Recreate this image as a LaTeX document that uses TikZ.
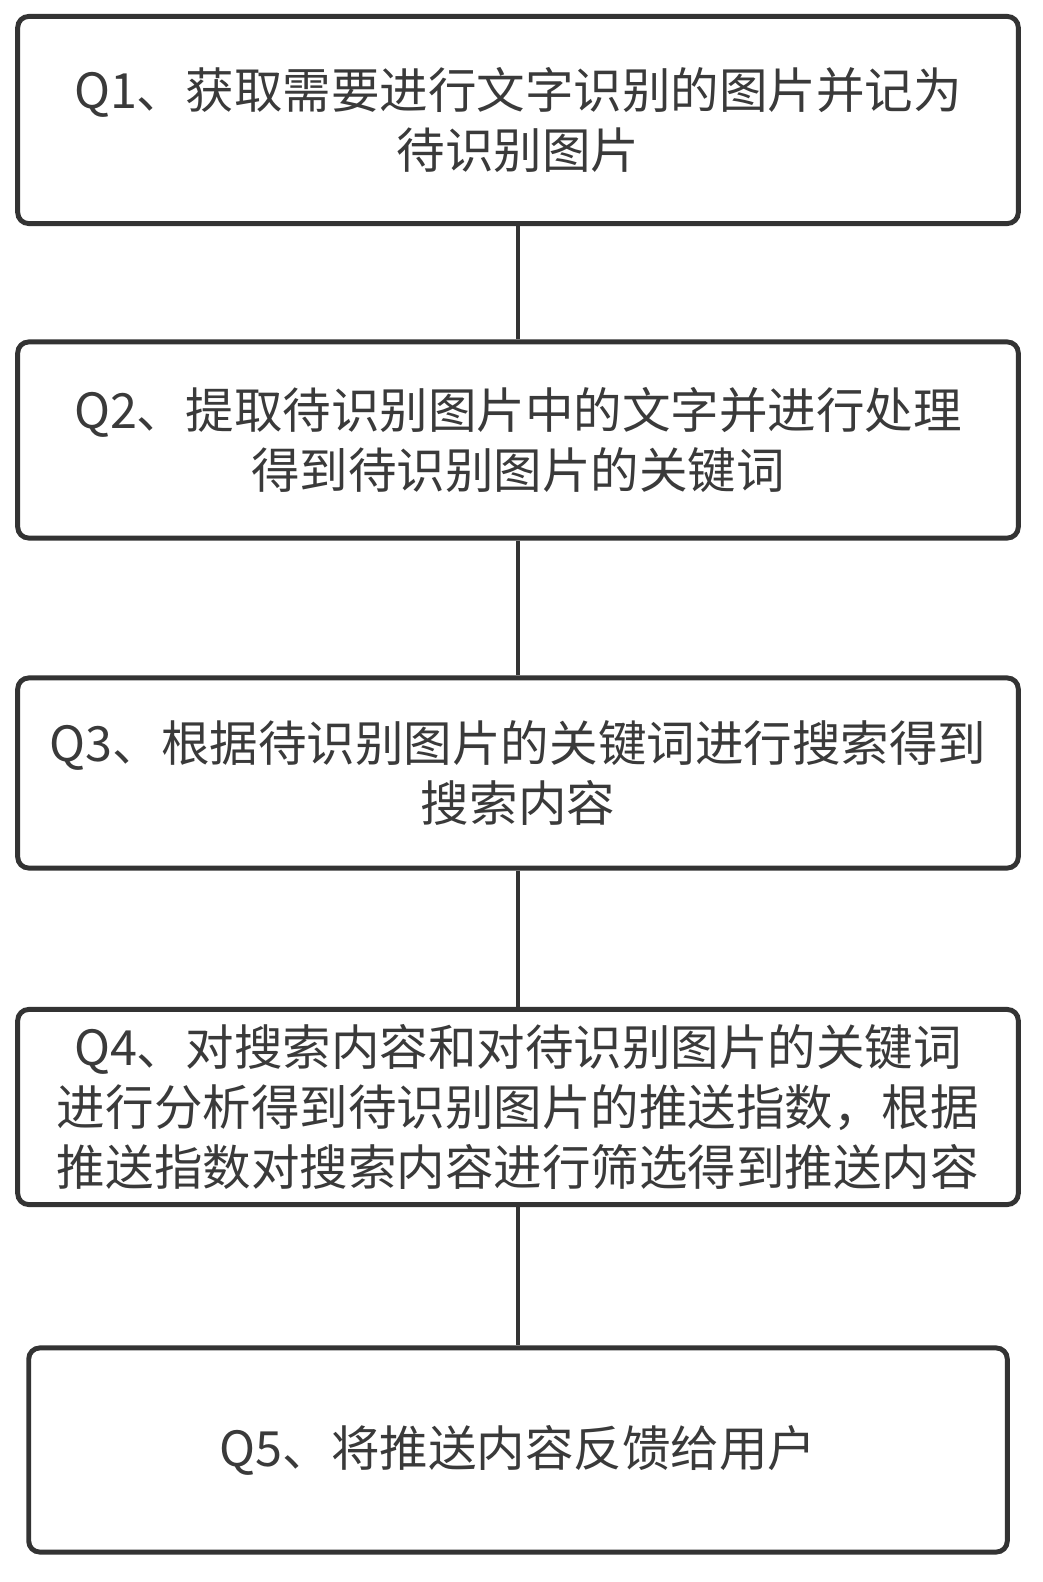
\documentclass[tikz,border=0pt]{standalone}
\usepackage{fontspec}
\setmainfont{Noto Sans CJK SC}
\usepackage{tikz}

\definecolor{boxline}{HTML}{333333}
\definecolor{boxtext}{HTML}{3A3A3A}
\tikzset{
  stepbox/.style={draw=boxline, line width=1.4pt, rounded corners=0.11cm,
    minimum width=10.0cm, text width=9.5cm, align=center, text=boxtext,
    font=\fontsize{13.8pt}{17.1pt}\selectfont, inner sep=0pt},
  link/.style={draw=boxline, line width=1.4pt}
}

\begin{document}
\begin{tikzpicture}[x=0.01cm, y=-0.01cm]
  \useasboundingbox (0,0) rectangle (1043,1582);
  \node[stepbox, minimum height=2.07cm] (q1) at (518,120) {Q1、获取需要进行文字识别的图片并记为\\待识别图片};
  \node[stepbox, minimum height=1.96cm] (q2) at (518,440) {Q2、提取待识别图片中的文字并进行处理\\得到待识别图片的关键词};
  \node[stepbox, minimum height=1.90cm] (q3) at (518,773) {Q3、根据待识别图片的关键词进行搜索得到\\搜索内容};
  \node[stepbox, minimum height=1.95cm] (q4) at (518,1107) {Q4、对搜索内容和对待识别图片的关键词\\进行分析得到待识别图片的推送指数，根据\\推送指数对搜索内容进行筛选得到推送内容};
  \node[stepbox, minimum height=2.04cm, minimum width=9.78cm] (q5) at (518,1450) {Q5、将推送内容反馈给用户};
  \draw[link] (q1) -- (q2) (q2) -- (q3) (q3) -- (q4) (q4) -- (q5);
\end{tikzpicture}
\end{document}
